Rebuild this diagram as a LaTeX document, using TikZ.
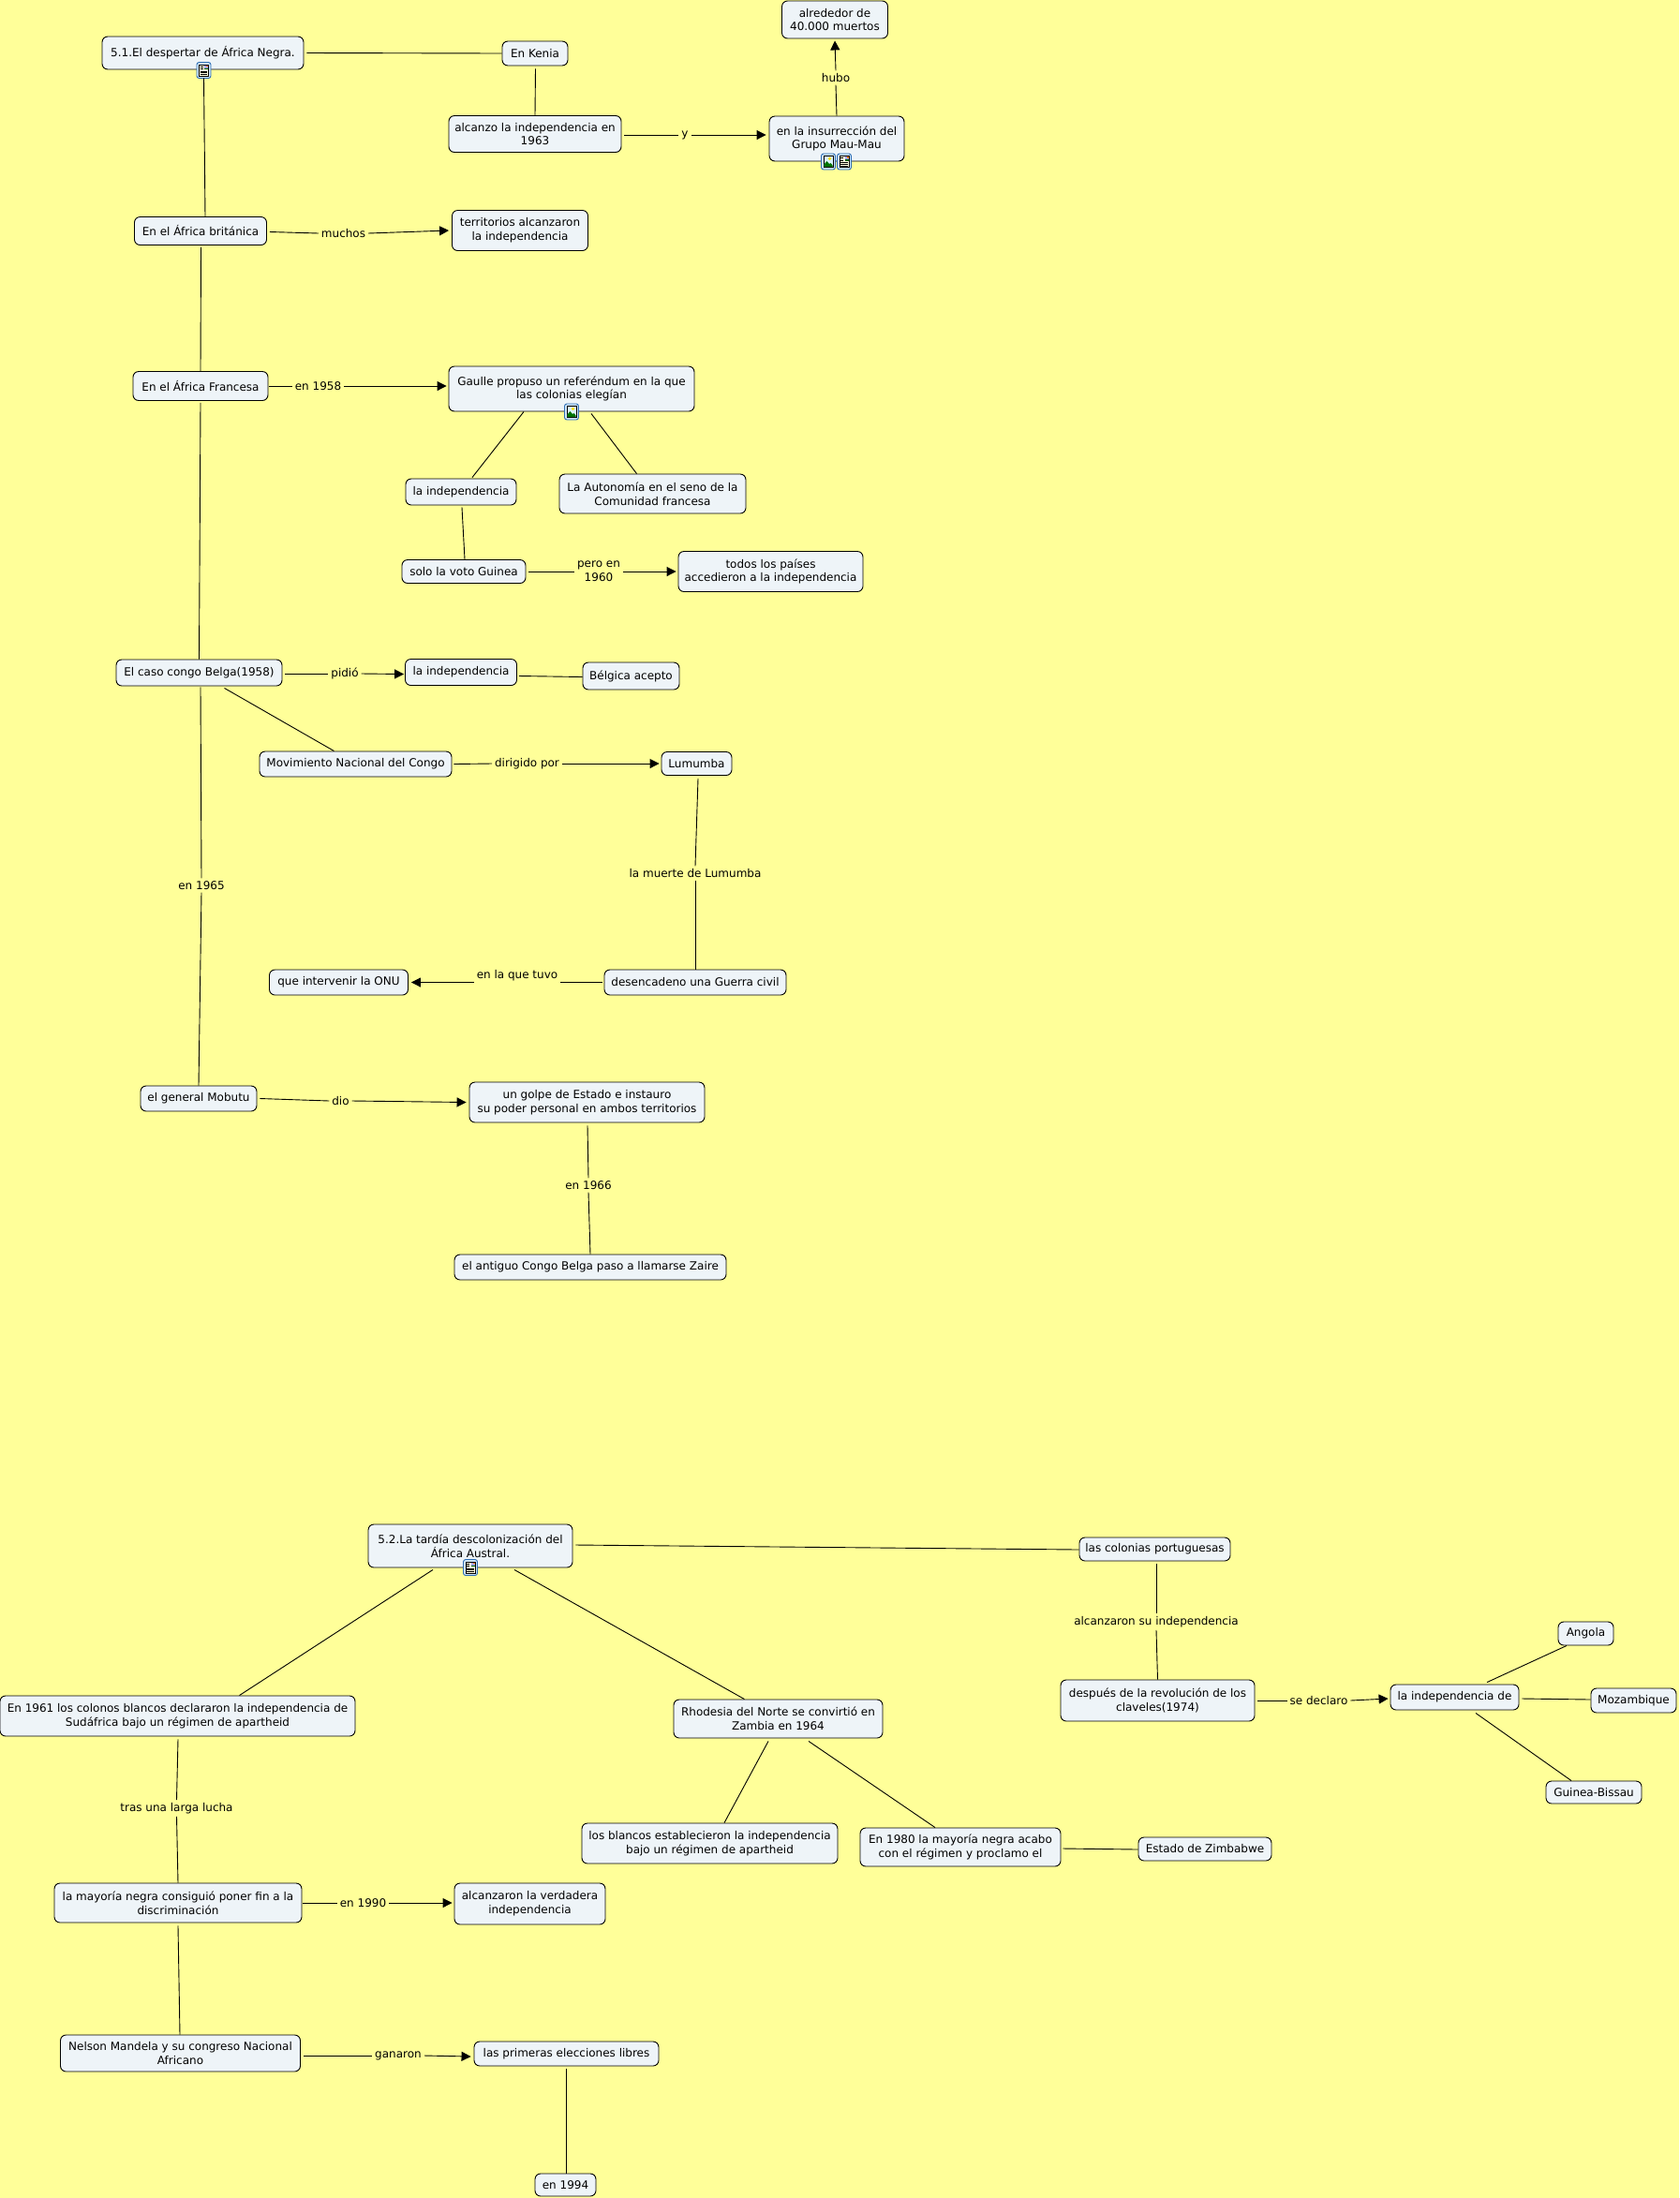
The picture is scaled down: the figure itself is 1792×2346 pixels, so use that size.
\documentclass[tikz,border=0pt]{standalone}
\usepackage{fontspec}
\setmainfont{DejaVu Sans}
\usetikzlibrary{arrows.meta}
\definecolor{bgy}{HTML}{FFFF99}
\definecolor{boxf}{HTML}{EEF4F8}
\definecolor{icb}{HTML}{2F6FB5}
\definecolor{icf}{HTML}{CFE6F8}
\tikzset{
  box/.style={draw=black,line width=.9pt,fill=boxf,rounded corners=6pt,inner sep=0pt,align=center,font=\fontsize{12}{14.7}\selectfont,text=black},
  lab/.style={inner sep=0pt,outer sep=3pt,align=center,font=\fontsize{12}{14.7}\selectfont,text=black},
  conn/.style={line width=.9pt,draw=black},
  arr/.style={line width=.9pt,draw=black,-{Triangle[length=10pt,width=10pt]}},
  docicon/.pic={
    \draw[draw=icb,line width=.9pt,fill=icf,rounded corners=2.5pt] (-7.5,-8.5) rectangle (7.5,8.5);
    \draw[draw=black,line width=.7pt,fill=yellow!12] (-5,-6) rectangle (5,6);
    \fill[blue!35!white] (0.5,-5.5) rectangle (4.5,-1);
    \fill[orange] (2.5,-5.5) rectangle (4.5,-3.8);
    \fill[green!40!black] (0.5,-2.2) rectangle (4.5,-1);
    \foreach \q in {.8,2.6,4.4}{\draw[line width=.6pt] (-3.8,\q) -- (3.8,\q);}
    \draw[line width=.6pt] (-3.8,-3.8) -- (-.6,-3.8);
    \draw[line width=.6pt] (-3.8,-1.5) -- (-.6,-1.5);
  },
  imgicon/.pic={
    \draw[draw=icb,line width=.9pt,fill=icf,rounded corners=2.5pt] (-7.5,-8.5) rectangle (7.5,8.5);
    \draw[draw=black,line width=.7pt,fill=white!85!cyan] (-5,-6) rectangle (5,6);
    \fill[yellow!85!orange] (1.5,-3.2) circle (1.8);
    \fill[green!45!black] (-4.6,5.6) -- (-4.6,3) -- (-1.5,-.5) -- (1,2.5) -- (2.5,1.5) -- (4.6,4) -- (4.6,5.6) -- cycle;
  }
}
\begin{document}
\begin{tikzpicture}[x=1pt,y=-1pt]
\useasboundingbox (0,0) rectangle (1792,2346);
\fill[bgy] (0,0) rectangle (1792,2346);
% concept nodes
\node[box,minimum width=215pt,minimum height=35pt] (n51) at (216.5,56.5) {5.1.El despertar de África Negra.};
\node[box,minimum width=70pt,minimum height=26pt] (kenia) at (571,57) {En Kenia};
\node[box,minimum width=184pt,minimum height=39pt] (alcanzo) at (571,143) {alcanzo la independencia en\\1963};
\node[box,minimum width=144pt,minimum height=48pt] (insur) at (893,148) {en la insurrección del\\Grupo Mau-Mau};
\node[box,minimum width=113pt,minimum height=40pt] (alred) at (891,21) {alrededor de\\40.000 muertos};
\node[box,minimum width=141pt,minimum height=30pt] (brit) at (214,246.5) {En el África británica};
\node[box,minimum width=145pt,minimum height=43pt] (terr) at (555,246) {territorios alcanzaron\\la independencia};
\node[box,minimum width=144pt,minimum height=31pt] (fran) at (214,412) {En el África Francesa};
\node[box,minimum width=262pt,minimum height=48pt] (gaulle) at (610,415) {Gaulle propuso un referéndum en la que\\las colonias elegían};
\node[box,minimum width=118pt,minimum height=28pt] (indep) at (492,525) {la independencia};
\node[box,minimum width=199pt,minimum height=42pt] (auton) at (696.5,527) {La Autonomía en el seno de la\\Comunidad francesa};
\node[box,minimum width=132pt,minimum height=25pt] (solo) at (495,610) {solo la voto Guinea};
\node[box,minimum width=197pt,minimum height=43pt] (todos) at (822.5,610) {todos los países\\accedieron a la independencia};
\node[box,minimum width=177pt,minimum height=28pt] (caso) at (212.5,718) {El caso congo Belga(1958)};
\node[box,minimum width=119pt,minimum height=28pt] (indepb) at (492,717.5) {la independencia};
\node[box,minimum width=103pt,minimum height=29pt] (belg) at (673.5,721.5) {Bélgica acepto};
\node[box,minimum width=205pt,minimum height=27pt] (mnc) at (379.5,815.5) {Movimiento Nacional del Congo};
\node[box,minimum width=75pt,minimum height=25pt] (lumu) at (743.5,815) {Lumumba};
\node[box,minimum width=194pt,minimum height=27pt] (desen) at (742,1048.5) {desencadeno una Guerra civil};
\node[box,minimum width=148pt,minimum height=27pt] (onu) at (361.5,1048.5) {que intervenir la ONU};
\node[box,minimum width=124pt,minimum height=27pt] (mobu) at (212,1172.5) {el general Mobutu};
\node[box,minimum width=251pt,minimum height=43pt] (golpe) at (626.5,1176.5) {un golpe de Estado e instauro\\su poder personal en ambos territorios};
\node[box,minimum width=290pt,minimum height=27pt] (zaire) at (630,1352.5) {el antiguo Congo Belga paso a llamarse Zaire};
\node[box,minimum width=218pt,minimum height=46pt] (n52) at (502,1650) {5.2.La tardía descolonización del\\África Austral.};
\node[box,minimum width=161pt,minimum height=25pt] (port) at (1232.5,1653.5) {las colonias portuguesas};
\node[box,minimum width=207pt,minimum height=44pt] (desp) at (1235.5,1815) {después de la revolución de los\\claveles(1974)};
\node[box,minimum width=137pt,minimum height=27pt] (indde) at (1552.5,1811.5) {la independencia de};
\node[box,minimum width=59pt,minimum height=25pt] (ango) at (1692.5,1743.5) {Angola};
\node[box,minimum width=91pt,minimum height=26pt] (moza) at (1743.5,1815) {Mozambique};
\node[box,minimum width=102pt,minimum height=24pt] (guin) at (1701,1913) {Guinea-Bissau};
\node[box,minimum width=379pt,minimum height=43pt] (sud) at (189.5,1831.5) {En 1961 los colonos blancos declararon la independencia de\\Sudáfrica bajo un régimen de apartheid};
\node[box,minimum width=223pt,minimum height=41pt] (rhod) at (830.5,1834.5) {Rhodesia del Norte se convirtió en\\Zambia en 1964};
\node[box,minimum width=273pt,minimum height=43pt] (blan) at (757.5,1967.5) {los blancos establecieron la independencia\\bajo un régimen de apartheid};
\node[box,minimum width=214pt,minimum height=41pt] (ochen) at (1025,1971.5) {En 1980 la mayoría negra acabo\\con el régimen y proclamo el};
\node[box,minimum width=142pt,minimum height=25pt] (zimb) at (1286,1973.5) {Estado de Zimbabwe};
\node[box,minimum width=264pt,minimum height=42pt] (mayo) at (190,2031) {la mayoría negra consiguió poner fin a la\\discriminación};
\node[box,minimum width=161pt,minimum height=44pt] (verd) at (565.5,2032) {alcanzaron la verdadera\\independencia};
\node[box,minimum width=256pt,minimum height=39pt] (mand) at (192.5,2191.5) {Nelson Mandela y su congreso Nacional\\Africano};
\node[box,minimum width=197pt,minimum height=26pt] (prim) at (604.5,2192) {las primeras elecciones libres};
\node[box,minimum width=65pt,minimum height=24pt] (ano) at (603.5,2332) {en 1994};
% icons
\pic at (217.5,75) {docicon};
\pic at (884,172.5) {imgicon};
\pic at (901,172.5) {docicon};
\pic at (610,439.5) {imgicon};
\pic at (502,1673) {docicon};
% linking phrases
\node[lab] (ly) at (731,144) {y};
\node[lab] (lhubo) at (892,83) {hubo};
\node[lab] (lmuchos) at (366.5,249) {muchos};
\node[lab] (l58) at (339.5,412) {en 1958};
\node[lab] (lpero) at (639,610) {pero en\\1960};
\node[lab] (lpidio) at (368,719) {pidió};
\node[lab] (l65) at (215,945) {en 1965};
\node[lab] (ldirig) at (562.5,815) {dirigido por};
\node[lab] (lmuerte) at (742,932) {la muerte de Lumumba};
\node[lab] (ltuvo) at (552,1041) {en la que tuvo};
\node[lab] (ldio) at (363.5,1175) {dio};
\node[lab] (l66) at (628,1265) {en 1966};
\node[lab] (lalc) at (1234,1731) {alcanzaron su independencia};
\node[lab] (ldecl) at (1407.5,1815) {se declaro};
\node[lab] (ltras) at (188.5,1930) {tras una larga lucha};
\node[lab] (l90) at (387.5,2031) {en 1990};
\node[lab] (lgan) at (425,2194) {ganaron};
% connectors
\draw[conn] ([shift={(3,0)}]n51.east) -- (kenia.west);
\draw[conn] ([shift={(1,9)}]n51.south) -- ([shift={(5,0)}]brit.north);
\draw[conn] ([shift={(0.5,3)}]kenia.south) -- (alcanzo.north);
\draw[conn] ([shift={(3,1)}]alcanzo.east) -- (ly.west);
\draw[arr] (ly.east) -- ([shift={(-3,-4)}]insur.west);
\draw[conn] (insur.north) -- (lhubo.south);
\draw[arr] (lhubo.north) -- ([shift={(0,2)}]alred.south);
\draw[conn] ([shift={(3,1)}]brit.east) -- (lmuchos.west);
\draw[arr] (lmuchos.east) -- ([shift={(-3,0)}]terr.west);
\draw[conn] ([shift={(0.5,2)}]brit.south) -- (fran.north);
\draw[conn] ([shift={(0,2)}]fran.south) -- (caso.north);
\draw[conn] ([shift={(1,0)}]fran.east) -- (l58.west);
\draw[arr] (l58.east) -- ([shift={(-2,-3)}]gaulle.west);
\draw[conn] ([shift={(-51,0)}]gaulle.south) -- ([shift={(12,-1)}]indep.north);
\draw[conn] ([shift={(21,2)}]gaulle.south) -- ([shift={(-17,0)}]auton.north);
\draw[conn] ([shift={(1,2)}]indep.south) -- ([shift={(1,0)}]solo.north);
\draw[conn] ([shift={(3,0)}]solo.east) -- (lpero.west);
\draw[arr] (lpero.east) -- ([shift={(-2,0)}]todos.west);
\draw[conn] ([shift={(3,1)}]caso.east) -- (lpidio.west);
\draw[arr] (lpidio.east) -- ([shift={(-1,2)}]indepb.west);
\draw[conn] ([shift={(2,4)}]indepb.east) -- ([shift={(0,1)}]belg.west);
\draw[conn] ([shift={(27,2)}]caso.south) -- ([shift={(-23,0)}]mnc.north);
\draw[conn] ([shift={(1.5,1)}]caso.south) -- (l65.north);
\draw[conn] (l65.south) -- (mobu.north);
\draw[conn] ([shift={(2,0)}]mnc.east) -- (ldirig.west);
\draw[arr] (ldirig.east) -- ([shift={(-2,0)}]lumu.west);
\draw[conn] ([shift={(1.5,3)}]lumu.south) -- (lmuerte.north);
\draw[conn] (lmuerte.south) -- (desen.north);
\draw[conn] ([shift={(-2,0)}]desen.west) -- ([shift={(0,7.5)}]ltuvo.east);
\draw[arr] ([shift={(0,7.5)}]ltuvo.west) -- ([shift={(3,0)}]onu.east);
\draw[conn] ([shift={(3,0)}]mobu.east) -- (ldio.west);
\draw[arr] (ldio.east) -- ([shift={(-3,0)}]golpe.west);
\draw[conn] ([shift={(0.5,3)}]golpe.south) -- (l66.north);
\draw[conn] (l66.south) -- (zaire.north);
\draw[conn] ([shift={(3,-1)}]n52.east) -- ([shift={(0,0.5)}]port.west);
\draw[conn] ([shift={(-40,2)}]n52.south) -- ([shift={(66,0)}]sud.north);
\draw[conn] ([shift={(47,2)}]n52.south) -- ([shift={(-36,0)}]rhod.north);
\draw[conn] ([shift={(1.5,3)}]port.south) -- (lalc.north);
\draw[conn] (lalc.south) -- (desp.north);
\draw[conn] ([shift={(3,0)}]desp.east) -- (ldecl.west);
\draw[arr] (ldecl.east) -- ([shift={(-2,1.5)}]indde.west);
\draw[conn] ([shift={(34.5,-2)}]indde.north) -- ([shift={(-20.5,0)}]ango.south);
\draw[conn] ([shift={(3,1.5)}]indde.east) -- ([shift={(0,-1)}]moza.west);
\draw[conn] ([shift={(22.5,3)}]indde.south) -- ([shift={(-24,0)}]guin.north);
\draw[conn] ([shift={(0.5,3)}]sud.south) -- (ltras.north);
\draw[conn] (ltras.south) -- (mayo.north);
\draw[conn] ([shift={(1,0)}]mayo.east) -- (l90.west);
\draw[arr] (l90.east) -- ([shift={(-2,-1)}]verd.west);
\draw[conn] ([shift={(0,3)}]mayo.south) -- ([shift={(-0.5,0)}]mand.north);
\draw[conn] ([shift={(3,2.5)}]mand.east) -- (lgan.west);
\draw[arr] (lgan.east) -- ([shift={(-3,3)}]prim.west);
\draw[conn] ([shift={(0,3)}]prim.south) -- ([shift={(1,0)}]ano.north);
\draw[conn] ([shift={(-10.5,3)}]rhod.south) -- ([shift={(15.5,0)}]blan.north);
\draw[conn] ([shift={(32.5,3)}]rhod.south) -- ([shift={(-27,0)}]ochen.north);
\draw[conn] ([shift={(2,1.5)}]ochen.east) -- ([shift={(0,0.5)}]zimb.west);
\end{tikzpicture}
\end{document}
